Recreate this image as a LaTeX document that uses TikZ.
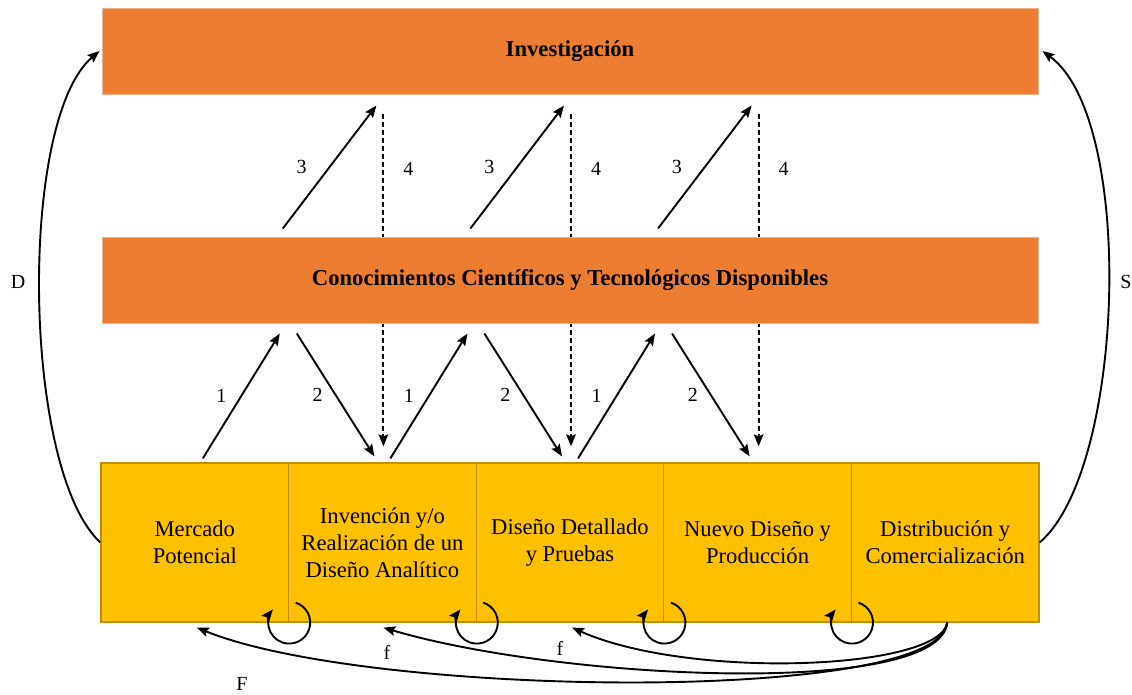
\documentclass[tikz,border=0pt]{standalone}
\usepackage{fontspec}
\setmainfont{Liberation Serif}
\usetikzlibrary{arrows.meta,calc}
\pgfdeclarelayer{background}
\pgfsetlayers{background,main}
\definecolor{bandfill}{HTML}{ED7D31}
\definecolor{bandedge}{HTML}{F4B183}
\definecolor{stagefill}{HTML}{FFC000}
\definecolor{stageedge}{HTML}{BF9000}

\begin{document}
\begin{tikzpicture}[x=1pt,y=-1pt,
  band/.style={fill=bandfill,draw=bandedge,line width=1pt,minimum width=936pt,
    minimum height=86pt,inner sep=0pt,font=\fontsize{22.7}{27}\selectfont\bfseries},
  stagebox/.style={fill=stagefill,draw=stageedge,line width=1.2pt,minimum width=187.6pt,
    minimum height=159pt,inner sep=0pt,align=center,font=\fontsize{22.6}{27}\selectfont},
  flow/.style={line width=1.9pt,-{Stealth[length=12pt,width=9.5pt,inset=2pt]}},
  back/.style={flow,line width=2pt,dash pattern=on 5pt off 3pt},
  lbl/.style={font=\fontsize{20}{22}\selectfont,inner sep=0pt},
]
\useasboundingbox (0,0) rectangle (1132,694);

% the two knowledge bands
\node[band] (inv) at (570,51) {Investigación};
\node[band] (know) at (570,280) {Conocimientos Científicos y Tecnológicos Disponibles};

% the chain of innovation stages
\node[stagebox] (s1) at (194.8,542.5) {Mercado\\Potencial};
\node[stagebox] (s2) at (382.4,542.5) {Invención y/o\\Realización de un\\Diseño Analítico};
\node[stagebox] (s3) at (570,542.5) {Diseño Detallado\\y Pruebas};
\node[stagebox] (s4) at (757.6,542.5) {Nuevo Diseño y\\Producción};
\node[stagebox] (s5) at (945.2,542.5) {Distribución y\\Comercialización};

% links between stages and the knowledge bands
\foreach \a/\b in {s1/s2,s2/s3,s3/s4}{
  \draw[flow] ($(\a.north)+(8,-4)$) -- node[lbl,left=14pt]{1} ($(\a.north |- know.south)+(85,10)$);
  \draw[flow] ($(\a.north |- know.south)+(102,10)$) -- node[lbl,left=12pt]{2} ($(\b.north)+(-8,-6)$);
  \draw[flow] ($(\a.north |- know.north)+(88,-8)$) -- node[lbl,left=22pt]{3} ($(\b.north |- inv.south)+(-6,11)$);
  \begin{pgfonlayer}{background}
    \draw[back] ($(\b.north |- inv.south)+(1,19)$) -- node[lbl,pos=.165,right=19pt]{4} ($(\b.north)+(1,-16)$);
  \end{pgfonlayer}
}

% feedback within each stage
\foreach \s in {s1,s2,s3,s4}{
  \draw[flow] ($(\s.south east)+(-72:21)$) arc[start angle=-72,end angle=219,radius=21];
}

% long loops back to research
\draw[flow] (s1.west) .. controls (22,470) and (18,120) .. ($(inv.west)+(-2,0)$);
\draw[flow] (s5.east) .. controls (1125,470) and (1136,120) .. ($(inv.east)+(4,0)$);
\node[lbl] (dlab) at (18,282) {D};
\node[lbl] (slab) at (1126,282) {S};

% feedback from distribution to earlier stages
\draw[flow] ($(s5.south)+(2,0)$) .. controls (940,670) and (690,680) .. ($(s3.south)+(2,5)$);
\draw[flow] ($(s5.south)+(2,0)$) .. controls (940,698) and (560,680) .. ($(s2.south)+(1,5)$);
\draw[flow] ($(s5.south)+(2,0)$) .. controls (940,704) and (370,698) .. ($(s1.south)+(2,5)$);
\node[lbl] (fa) at (387,652) {f};
\node[lbl] (fb) at (560,648) {f};
\node[lbl] (fc) at (242,684) {F};
\end{tikzpicture}
\end{document}
